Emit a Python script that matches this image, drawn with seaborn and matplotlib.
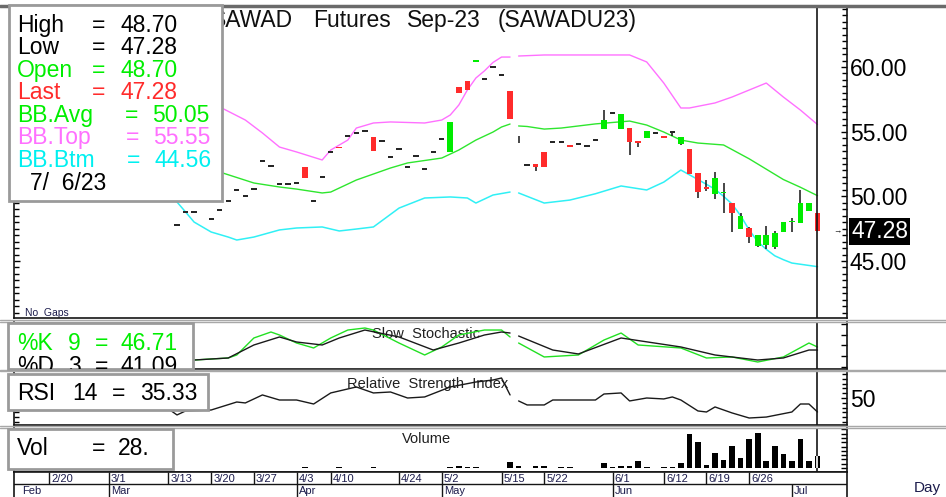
import matplotlib
matplotlib.use("Agg")
import matplotlib.pyplot as plt
import matplotlib.transforms as mtrans
import seaborn as sns
import numpy as np
import pandas as pd
from matplotlib.patches import Rectangle
from matplotlib.lines import Line2D
from matplotlib.ticker import MultipleLocator, FixedLocator, NullFormatter, FormatStrFormatter

sns.set_theme(style="white")
plt.rcParams['font.family'] = ['Liberation Sans', 'DejaVu Sans']

# ---------------- data (bar slot 0 = 3/14 ... slot 75 = 7/6) ----------------
opens = [47.78, 48.79, 48.79, None, 48.24, 48.94, 49.64, 50.49, 50.02, 50.56,
         52.73, 52.34, 50.95, 50.95, 51.03, 52.27, 49.64, 51.49, 53.43, 53.85,
         54.66, 54.90, 55.05, 54.59, 54.28, 53.04, 53.66, 52.27, 53.12, 52.11,
         53.43, 54.43, 53.43, 58.45, 58.92, 60.42, 59.07, 60.00, 59.38, 58.14,
         None, 52.42, 52.50, 53.43, 54.20, 54.20, 53.97, 54.04, 53.89, 54.35,
         55.20, 56.44, 55.20, 55.28, 54.20, 54.51, 54.90, 54.66, 54.97, 54.04,
         53.66, 51.80, 50.72, 50.18, 50.22, 49.48, 47.47, 47.55, 46.16, 46.23,
         46.08, 47.24, 47.98, 47.94, 48.87, 48.70]
highs = [47.78, 48.79, 48.79, None, 48.24, 48.94, 49.64, 50.49, 50.02, 50.56,
         52.73, 52.34, 50.95, 50.95, 51.03, 52.27, 49.64, 51.49, 53.43, 53.85,
         54.66, 54.90, 55.05, 54.59, 54.28, 53.04, 53.66, 52.27, 53.12, 52.11,
         53.43, 54.43, 55.75, 58.45, 58.92, 60.50, 59.07, 60.00, 59.38, 58.14,
         54.66, 52.42, 52.50, 53.43, 54.20, 54.20, 53.97, 54.04, 53.89, 54.35,
         56.67, 56.44, 56.36, 55.28, 54.20, 55.05, 54.90, 54.66, 55.05, 54.59,
         53.66, 51.80, 51.26, 51.88, 51.03, 49.48, 48.71, 47.63, 47.01, 47.70,
         47.32, 48.01, 48.32, 50.49, 49.48, 48.70]
lows = [47.78, 48.79, 48.79, None, 48.24, 48.94, 49.64, 50.49, 50.02, 50.56,
        52.73, 52.34, 50.95, 50.95, 51.03, 51.42, 49.64, 51.49, 53.43, 53.70,
        54.66, 54.90, 55.05, 53.50, 54.28, 53.04, 53.66, 52.27, 53.12, 52.11,
        53.43, 54.43, 53.43, 57.99, 58.22, 60.42, 59.07, 60.00, 59.38, 55.98,
        54.12, 52.42, 51.96, 52.27, 54.20, 54.20, 53.82, 54.04, 53.89, 54.35,
        55.20, 56.44, 55.20, 53.19, 53.81, 54.51, 54.90, 54.51, 54.70, 53.97,
        51.73, 49.87, 50.41, 49.79, 48.71, 47.24, 47.47, 46.39, 46.08, 45.92,
        45.92, 47.24, 47.24, 47.94, 48.87, 47.28]
closes = [47.78, 48.79, 48.79, None, 48.24, 48.94, 49.64, 50.49, 50.02, 50.56,
          52.73, 52.34, 50.95, 50.95, 51.03, 51.42, 49.64, 51.49, 53.43, 53.70,
          54.66, 54.90, 55.05, 53.50, 54.28, 53.04, 53.66, 52.27, 53.12, 52.11,
          53.43, 54.43, 55.75, 57.99, 58.22, 60.50, 59.07, 60.00, 59.38, 55.98,
          None, 52.42, 52.27, 52.27, 54.20, 54.20, 53.82, 54.04, 53.89, 54.35,
          55.90, 56.44, 56.36, 54.20, 54.12, 55.05, 54.90, 54.51, 54.97, 54.59,
          51.73, 50.33, 50.56, 51.42, 50.30, 48.71, 48.48, 46.85, 47.01, 47.01,
          47.16, 48.01, 48.06, 49.48, 49.48, 47.28]
volume = [0, 0, 0, 0, 0, 0, 0, 0, 0, 0,
          0, 0, 0, 0, 0, 2, 0, 0, 0, 2,
          0, 0, 0, 3, 0, 0, 0, 0, 0, 0,
          0, 0, 2, 4, 2, 2, 0, 0, 0, 14,
          5, 0, 5, 5, 0, 2, 2, 0, 0, 0,
          12, 3, 5, 5, 16, 3, 0, 2, 2, 12,
          79, 61, 7, 35, 19, 51, 23, 68, 82, 16,
          51, 33, 16, 68, 16, 28]

# Bollinger bands (two segments, break after slot 39)
bb_top_x1 = [5, 8, 10, 12, 14, 17, 18, 20, 21, 23, 25, 29, 31, 32, 33, 34, 35, 36, 37, 38, 39]
bb_top_y1 = [56.91, 55.90, 54.90, 53.81, 53.43, 52.81, 53.58, 54.35, 55.28, 55.67, 55.75,
             55.67, 55.90, 56.29, 57.06, 58.22, 59.15, 59.70, 60.35, 60.77, 60.77]
bb_top_x2 = [40, 43, 53, 55, 57, 59, 60, 63, 65, 69, 71, 73, 75]
bb_top_y2 = [60.85, 60.93, 60.93, 60.39, 58.76, 56.83, 56.83, 57.22, 57.68, 58.76, 57.68, 56.67, 55.55]

bb_avg_x1 = [5, 9, 12, 14, 17, 18, 21, 25, 27, 31, 33, 35, 37, 38, 39]
bb_avg_y1 = [51.88, 51.03, 50.72, 50.56, 50.26, 50.33, 51.26, 52.19, 52.58, 52.96, 53.58,
             54.35, 54.97, 55.36, 55.59]
bb_avg_x2 = [40, 41, 43, 45, 49, 53, 55, 57, 59, 61, 64, 67, 71, 73, 75]
bb_avg_y2 = [55.44, 55.40, 55.20, 55.28, 55.60, 55.82, 55.51, 54.97, 54.35, 54.12, 53.97,
             52.90, 51.30, 50.70, 50.05]

bb_btm_x1 = [-1, 0, 1, 2, 4, 6, 7, 9, 12, 14, 17, 19, 21, 23, 26, 29, 32, 34, 35, 37, 39]
bb_btm_y1 = [50.10, 49.56, 48.79, 48.01, 47.24, 46.85, 46.62, 46.85, 47.40, 47.55, 47.63,
             47.32, 47.47, 47.63, 49.09, 49.87, 49.95, 49.87, 49.48, 50.10, 50.33]
bb_btm_x2 = [40, 43, 46, 49, 52, 55, 57, 59, 61, 63, 64, 65, 66, 67, 68, 69, 70, 71, 72, 75]
bb_btm_y2 = [50.26, 49.48, 49.71, 50.20, 50.80, 50.49, 51.10, 52.03, 51.30, 50.55, 50.00,
             49.40, 48.50, 47.40, 46.50, 45.90, 45.40, 45.10, 44.84, 44.56]

# Slow stochastic
k_x1 = [2, 6, 7, 9, 11, 12, 14, 16, 18, 20, 22, 23, 26, 29, 31, 33, 36, 38, 39]
k_y1 = [22.4, 26.2, 31.8, 63.6, 74.8, 69.2, 54.2, 44.9, 63.6, 78.5, 82.3, 78.5, 54.2, 31.8,
        46.8, 69.2, 78.5, 78.5, 65.5]
k_x2 = [40, 43, 47, 50, 52, 54, 59, 62, 65, 68, 71, 74, 75]
k_y2 = [54.2, 28.1, 31.8, 59.8, 72.9, 50.5, 44.9, 26.2, 28.1, 18.7, 28.1, 54.2, 46.71]
d_x1 = [2, 6, 9, 12, 14, 17, 19, 22, 26, 30, 33, 36, 38, 39]
d_y1 = [22.4, 26.2, 50.5, 65.5, 56.1, 50.5, 63.6, 78.5, 65.5, 41.1, 54.2, 69.2, 74.8, 72.9]
d_x2 = [40, 44, 47, 52, 59, 63, 68, 71, 74, 75]
d_y2 = [67.3, 41.1, 33.7, 63.6, 46.8, 31.8, 22.4, 26.2, 41.1, 41.09]

# RSI 14
rsi_x1 = [-1, 0, 1, 4, 7, 8, 10, 12, 14, 16, 18, 21, 23, 25, 27, 29, 32, 35, 37, 38, 39]
rsi_y1 = [38.5, 32.2, 36.4, 37.4, 45.8, 44.8, 53.2, 47.9, 47.9, 43.7, 55.3, 61.6, 55.3, 56.3,
          50.0, 51.1, 61.6, 66.8, 68.9, 71.0, 53.2]
rsi_x2 = [40, 41, 43, 44, 49, 50, 52, 53, 55, 57, 58, 59, 61, 62, 63, 65, 67, 69, 72, 73, 74, 75]
rsi_y2 = [46.9, 42.7, 42.7, 47.9, 47.9, 54.2, 55.3, 46.9, 50.0, 49.0, 51.1, 47.9, 36.4, 35.3,
          40.6, 34.3, 29.0, 30.0, 35.3, 43.7, 43.7, 35.33]

day_tick_idx = [-15, -8, -1, 4, 9, 14, 18, 26, 31, 38, 43, 51, 57, 62, 67]
day_tick_lab = ["2/20", "3/1", "3/13", "3/20", "3/27", "4/3", "4/10", "4/24", "5/2",
                "5/15", "5/22", "6/1", "6/12", "6/19", "6/26"]
month_tick_idx = [-8, 14, 31, 51, 72]
month_tick_lab = ["Mar", "Apr", "May", "Jun", "Jul"]

# ---------------- figure ----------------
W, H = 946, 497
fig = plt.figure(figsize=(W / 100, H / 100), dpi=100)
fig.patch.set_facecolor('white')


def rect(x0, y0, x1, y1):
    return [x0 / W, 1 - y1 / H, (x1 - x0) / W, (y1 - y0) / H]


def F(px, py):
    return px / W, 1 - py / H


ax_m = fig.add_axes(rect(14, 7, 847, 318))
ax_s = fig.add_axes(rect(14, 322, 847, 369))
ax_r = fig.add_axes(rect(14, 372, 847, 425))
ax_v = fig.add_axes(rect(14, 428, 847, 472))
ax_d = fig.add_axes(rect(14, 472, 847, 497))

X0, DX = 177, 8.54
XLIM = ((14 - X0) / DX, (847 - X0) / DX)

GREEN = '#00EC00'
RED = '#FF2B2B'
DASH = '#262626'
PINK = '#FF70FF'
AVG = '#2EE62E'
CYAN = '#30F0F5'

# ---- candles ----
df = pd.DataFrame({'i': np.arange(len(closes)), 'o': opens, 'h': highs,
                   'l': lows, 'c': closes}, dtype=float)
wk = df.dropna(subset=['h', 'l'])
wk = wk[wk.h > wk.l]
ax_m.vlines(wk.i, wk.l, wk.h, color='#151515', lw=1.1, zorder=3)
bd = df.dropna(subset=['o', 'c'])
cols, bots, hts, wds = [], [], [], []
for r in bd.itertuples():
    if r.c > r.o:
        cols.append(GREEN); bots.append(r.o); hts.append(max(r.c - r.o, 0.12)); wds.append(0.66)
    elif r.c < r.o:
        cols.append(RED); bots.append(r.c); hts.append(max(r.o - r.c, 0.12)); wds.append(0.66)
    else:
        cols.append(DASH); bots.append(r.o - 0.06); hts.append(0.12); wds.append(0.62)
ax_m.bar(bd.i, hts, bottom=bots, width=wds, color=cols, linewidth=0, zorder=4)


def seg(ax, xs, ys, color, lw, z=2):
    sns.lineplot(x=xs, y=ys, ax=ax, color=color, linewidth=lw, sort=False,
                 estimator=None, legend=False, zorder=z)


seg(ax_m, bb_top_x1, bb_top_y1, PINK, 1.0)
seg(ax_m, bb_top_x2, bb_top_y2, PINK, 1.0)
seg(ax_m, bb_avg_x1, bb_avg_y1, AVG, 1.0)
seg(ax_m, bb_avg_x2, bb_avg_y2, AVG, 1.0)
seg(ax_m, bb_btm_x1, bb_btm_y1, CYAN, 1.1)
seg(ax_m, bb_btm_x2, bb_btm_y2, CYAN, 1.1)

seg(ax_s, k_x1, k_y1, '#22E022', 1.0)
seg(ax_s, k_x2, k_y2, '#22E022', 1.0)
seg(ax_s, d_x1, d_y1, '#1a1a1a', 1.0)
seg(ax_s, d_x2, d_y2, '#1a1a1a', 1.0)

seg(ax_r, rsi_x1, rsi_y1, '#1a1a1a', 1.0)
seg(ax_r, rsi_x2, rsi_y2, '#1a1a1a', 1.0)

vdf = pd.DataFrame({'i': np.arange(len(volume)), 'v': volume})
vdf = vdf[vdf.v > 0]
ax_v.bar(vdf.i, vdf.v, width=0.66, color='black', linewidth=0, zorder=3)

# ---- limits, ticks, spines ----
ax_m.set_ylim(40.59, 64.64)
ax_s.set_ylim(5.6, 93.5)
ax_r.set_ylim(21.65, 77.3)
ax_v.set_ylim(-9.3, 93.2)

for ax in [ax_m, ax_s, ax_r, ax_v]:
    ax.set_xlim(*XLIM)
    ax.set_xlabel('')
    ax.set_ylabel('')
    ax.set_xticks([])
    ax.spines['top'].set_visible(False)
    for s in ['left', 'right', 'bottom']:
        ax.spines[s].set_color('#151515')
        ax.spines[s].set_linewidth(1.2)
    ax.tick_params(axis='y', which='both', direction='in', left=True, right=True,
                   labelleft=False, labelright=True, color='black', labelcolor='black',
                   width=1, pad=2, labelsize=16.5)
    ax.tick_params(axis='y', which='major', length=4.5)
    ax.tick_params(axis='y', which='minor', length=3.5)
    ax.axvline(75, color='#151515', lw=1.2, zorder=6)

ax_m.yaxis.set_major_locator(FixedLocator([45, 50, 55, 60]))
ax_m.yaxis.set_major_formatter(FormatStrFormatter('%.2f'))
ax_m.yaxis.set_minor_locator(MultipleLocator(0.5))

ax_s.yaxis.set_major_locator(FixedLocator([10, 30, 50, 70, 90]))
ax_s.yaxis.set_major_formatter(NullFormatter())

ax_r.yaxis.set_major_locator(FixedLocator([50]))
ax_r.yaxis.set_major_formatter(FormatStrFormatter('%d'))
ax_r.yaxis.set_minor_locator(MultipleLocator(5))

ax_v.yaxis.set_major_locator(MultipleLocator(10))
ax_v.yaxis.set_major_formatter(NullFormatter())
ax_v.vlines(75, 0, volume[75], color='white', lw=1.2, zorder=7)

# date axis
ax_d.set_xlim(*XLIM)
ax_d.set_ylim(0, 1)
ax_d.set_xticks([])
ax_d.set_yticks([])
ax_d.spines['bottom'].set_visible(False)
for s in ['left', 'right', 'top']:
    ax_d.spines[s].set_color('#151515')
    ax_d.spines[s].set_linewidth(1.2)
ax_d.axhline(0.52, color='#151515', lw=1.0)
DCOL = '#1c1c4c'
ax_d.vlines(day_tick_idx, 0.52, 1, color='#151515', lw=1.0)
for ix, lab in zip(day_tick_idx, day_tick_lab):
    ax_d.text(ix + 0.25, 0.74, lab, fontsize=8, ha='left', va='center', color=DCOL)
ax_d.vlines(month_tick_idx, 0, 0.52, color='#151515', lw=1.0)
for ix, lab in zip(month_tick_idx, month_tick_lab):
    ax_d.text(ix + 0.25, 0.24, lab, fontsize=8, ha='left', va='center', color=DCOL)
ax_d.text((22 - X0) / DX, 0.24, "Feb", fontsize=8, ha='left', va='center', color=DCOL)

# panel titles (under the lines)
ax_m.text(*F(25, 316), "No  Gaps", transform=fig.transFigure, fontsize=7.5,
          color=DCOL, va='baseline', zorder=1)
ax_s.text(*F(372, 338), "Slow  Stochastic", transform=fig.transFigure, fontsize=10.5,
          color='#202020', va='baseline', zorder=1)
ax_r.text(*F(347, 388), "Relative  Strength  Index", transform=fig.transFigure,
          fontsize=10.5, color='#202020', va='baseline', zorder=1)
ax_v.text(*F(402, 443), "Volume", transform=fig.transFigure, fontsize=10.5,
          color='#202020', va='baseline', zorder=1)

# ---- figure-level frame lines ----
def hline(py, color, lw):
    fig.add_artist(Line2D([0, 1], [1 - py / H] * 2, transform=fig.transFigure,
                          color=color, lw=lw, zorder=1))


hline(6, '#6a6a6a', 2.5)
for py in (319.8, 321.6, 369.6, 371.4, 425.8, 427.6):
    hline(py, '#a8a8a8', 1.0)

# title (under the info box)
for px, word in [(211, "SAWAD"), (313, "Futures"), (407, "Sep-23"), (498, "(SAWADU23)")]:
    fig.text(*F(px, 27), word, fontsize=16.5, color='#101010', va='baseline', zorder=1.5)

# current price label
bt = mtrans.blended_transform_factory(fig.transFigure, ax_m.transData)
fig.text(851 / W, closes[-1], "47.28", transform=bt, fontsize=16.5, color='white',
         va='center', ha='left', zorder=4,
         bbox=dict(boxstyle='square,pad=0.08', fc='black', ec='none'))
fig.text(833 / W, closes[-1], "\u2192", transform=bt, fontsize=6, color='black',
         va='center', ha='left', zorder=4)

fig.text(*F(914, 492), "Day", fontsize=11, color=DCOL, va='baseline', zorder=3)


# ---- info boxes ----
def box(x0, y0, x1, y1):
    fig.add_artist(Rectangle(F(x0, y1), (x1 - x0) / W, (y1 - y0) / H,
                             transform=fig.transFigure, fc='white', ec='#9a9a9a',
                             lw=2.0, zorder=2))


def txt(px, py, s, color='black', clip=None):
    t = fig.text(*F(px, py), s, fontsize=16.5, color=color, va='baseline',
                 ha='left', zorder=3)
    if clip is not None:
        t.set_clip_box(clip.bbox)
        t.set_clip_on(True)
    return t


box(9, 5, 222, 201)
rows = [("High", "48.70", 'black', 92, 120, 32),
        ("Low", "47.28", 'black', 92, 120, 54),
        ("Open", "48.70", '#00EE00', 92, 120, 77),
        ("Last", "47.28", '#FF2B2B', 92, 120, 99),
        ("BB.Avg", "50.05", '#00EE00', 125, 152, 122),
        ("BB.Top", "55.55", '#FF70FF', 126, 153, 144),
        ("BB.Btm", "44.56", '#00F0F0', 127, 154, 167)]
for lab, val, col, xe, xv, yb in rows:
    txt(17, yb, lab, col)
    txt(xe, yb, "=", col)
    txt(xv, yb, val, col)
txt(30, 190, "7/  6/23")

box(8, 323, 193, 369)
txt(17, 350, "%K", '#00EE00'); txt(68, 350, "9", '#00EE00')
txt(95, 350, "=", '#00EE00'); txt(120, 350, "46.71", '#00EE00')
for px, s in [(17, "%D"), (68, "3"), (95, "="), (120, "41.09")]:
    txt(px, 373, s, 'black', clip=ax_s)

box(8, 374, 208, 410)
txt(17, 400, "RSI"); txt(72, 400, "14"); txt(112, 400, "="); txt(140, 400, "35.33")

box(8, 429, 173, 469)
txt(17, 455, "Vol"); txt(92, 455, "="); txt(118, 455, "28.")

fig.savefig("out.png", dpi=100, facecolor='white')
